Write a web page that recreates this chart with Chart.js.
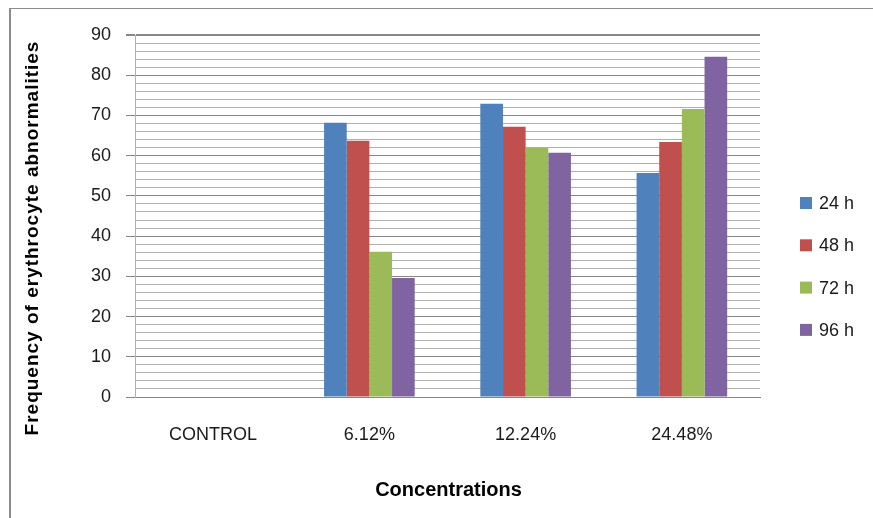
<!DOCTYPE html>
<html>
<head>
<meta charset="utf-8">
<script src="https://cdn.jsdelivr.net/npm/chart.js@4.4.1/dist/chart.umd.min.js"></script>
<style>
  html, body { margin: 0; padding: 0; background: #fff; }
  #wrap { position: relative; width: 873px; height: 518px; overflow: hidden; }
  #frame { position: absolute; left: 9px; top: 8px; width: 900px; height: 600px;
           border-left: 2px solid #8c8c8c; border-top: 1px solid #8c8c8c; }
  canvas { position: absolute; left: 0; top: 0; }
</style>
</head>
<body>
<div id="wrap">
  <div id="frame"></div>
  <canvas id="chart" width="873" height="518"></canvas>
</div>
<script>
// Concentration groups on the x axis
const categories = ['CONTROL', '6.12%', '12.24%', '24.48%'];
// Exposure times (one series each)
const seriesNames = ['24 h', '48 h', '72 h', '96 h'];
const values24h = [0, 68.2, 72.9, 55.7];
const values48h = [0, 63.7, 67.2, 63.4];
const values72h = [0, 36.1, 62.0, 71.6];
const values96h = [0, 29.6, 60.7, 84.6];
// Labelled y ticks (minor grid every 2)
const yTickLabels = [0, 10, 20, 30, 40, 50, 60, 70, 80, 90];
const yTitle = 'Frequency of erythrocyte abnormalities';
const xTitle = 'Concentrations';

const seriesColors = ['#4F81BD', '#C0504D', '#9BBB59', '#8064A2'];
const FONT = "'Liberation Sans', Arial, sans-serif";
const TEXT = '#1a1a1a';

const seriesValues = [values24h, values48h, values72h, values96h];
const datasets = seriesNames.map((name, i) => ({
  label: name,
  data: seriesValues[i],
  backgroundColor: seriesColors[i],
  borderWidth: 0,
  barPercentage: 1.0,
  categoryPercentage: 0.58
}));

// Axis titles and the legend on the right
const extraText = {
  id: 'extraText',
  afterDraw(chart) {
    const { ctx, chartArea: a } = chart;
    ctx.save();
    ctx.fillStyle = '#000';
    ctx.textAlign = 'center';
    ctx.textBaseline = 'middle';

    // rotated y-axis title
    ctx.font = `bold 19px ${FONT}`;
    ctx.save();
    ctx.letterSpacing = '1px';
    ctx.translate(a.left - 102, a.bottom - 159);
    ctx.rotate(-Math.PI / 2);
    ctx.fillText(yTitle, 0, 0);
    ctx.restore();

    // x-axis title, centred under the plot
    ctx.font = `bold 20px ${FONT}`;
    ctx.fillText(xTitle, (a.left + a.right) / 2 + 1, a.bottom + 93);

    // legend
    ctx.font = `18px ${FONT}`;
    ctx.textAlign = 'left';
    chart.data.datasets.forEach((ds, i) => {
      const cy = a.top + 168 + i * 42.3;
      ctx.fillStyle = ds.backgroundColor;
      ctx.fillRect(a.right + 40, cy - 6, 12, 12);
      ctx.fillStyle = TEXT;
      ctx.fillText(ds.label, a.right + 59, cy + 1);
    });
    ctx.restore();
  }
};

new Chart(document.getElementById('chart'), {
  type: 'bar',
  data: { labels: categories, datasets },
  plugins: [extraText],
  options: {
    responsive: false,
    animation: false,
    layout: { padding: { top: 35, right: 113, bottom: 0, left: 0 } },
    plugins: {
      legend: { display: false },
      tooltip: { enabled: false }
    },
    scales: {
      x: {
        grid: { display: false, drawTicks: false },
        border: { display: true, color: '#878787', width: 1 },
        ticks: { color: TEXT, font: { family: FONT, size: 18 }, padding: 27, maxRotation: 0 },
        afterFit(scale) { scale.height = 121; }
      },
      y: {
        min: 0,
        max: 90,
        grid: {
          color: ctx => (yTickLabels.includes(ctx.tick.value) ? '#878787' : '#b0b0b0'),
          tickColor: ctx => (yTickLabels.includes(ctx.tick.value) ? '#878787' : 'rgba(0,0,0,0)'),
          tickLength: 9,
          lineWidth: ctx => (ctx.tick.value === 90 ? 2 : 1)
        },
        border: { display: true, color: '#b0b0b0', width: 1 },
        ticks: {
          stepSize: 2,
          autoSkip: false,
          padding: 15,
          color: TEXT,
          font: { family: FONT, size: 18 },
          callback: v => (yTickLabels.includes(v) ? String(v) : '')
        },
        afterFit(scale) { scale.width = 135; }
      }
    }
  }
});
</script>
</body>
</html>
